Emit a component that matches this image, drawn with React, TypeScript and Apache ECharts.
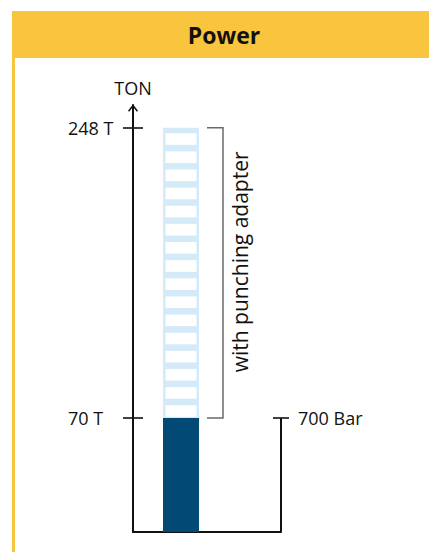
import React, { useEffect, useRef } from 'react';
import * as echarts from 'echarts';

// ---- data ----
const TITLE = 'Power';
const TON_AXIS_NAME = 'TON';
const TON_TICKS = [70, 248];
const TON_TICK_LABELS = ['70 T', '248 T'];
const BAR_TICKS = [700];
const BAR_TICK_LABELS = ['700 Bar'];
const BASE_TON = [70];            // standard force
const ADAPTER_TON = [70, 248];    // range added with punching adapter
const PRESSURE_BAR = [0, 700];
const ADAPTER_LABEL = 'with punching adapter';
const TON_AXIS_MAX = 262;
const BAR_PER_TON = 10;

// ---- layout / style constants ----
const FONT = '"Open Sans", sans-serif';
const YELLOW = '#F9C53E';
const DARK = '#024A75';
const LIGHT = '#D5EAF9';
const INK = '#111111';
const X_MAX = 148;
const BAR_X = 48;
const BAR_WIDTH = 36;
const BRACKET_X0 = 74;
const BRACKET_X1 = 90;
const STRIPES = 16;

export default function App() {
  const ref = useRef<HTMLDivElement>(null);

  useEffect(() => {
    if (!ref.current) return;
    const chart = echarts.init(ref.current, undefined, { renderer: 'svg' });

    const option: any = {
      animation: false,
      backgroundColor: '#ffffff',
      graphic: [
        { type: 'rect', shape: { x: 12, y: 11, width: 417, height: 47 }, style: { fill: YELLOW }, silent: true },
        { type: 'rect', shape: { x: 12, y: 58, width: 3, height: 494 }, style: { fill: YELLOW }, silent: true },
        {
          type: 'text',
          x: 224,
          y: 35,
          style: {
            text: TITLE,
            font: `bold 23px ${FONT}`,
            fill: INK,
            align: 'center',
            verticalAlign: 'middle',
            textAlign: 'center',
            textVerticalAlign: 'middle',
          },
          silent: true,
        },
      ],
      grid: { left: 133, right: 148, top: 105, bottom: 20, containLabel: false },
      xAxis: {
        type: 'value',
        min: 0,
        max: X_MAX,
        axisLine: { show: true, lineStyle: { color: INK, width: 2 } },
        axisTick: { show: false },
        axisLabel: { show: false },
        splitLine: { show: false },
      },
      yAxis: [
        {
          type: 'value',
          min: 0,
          max: TON_AXIS_MAX,
          position: 'left',
          axisLine: {
            show: true,
            onZero: false,
            symbol: ['none', 'path://M0,6.5 L5,0 L10,6.5 L8.8,7.4 L5,2.4 L1.2,7.4 Z'],
            symbolSize: [10, 7.4],
            symbolOffset: [0, -3],
            lineStyle: { color: INK, width: 2 },
          },
          axisTick: { show: false },
          axisLabel: { show: false },
          splitLine: { show: false },
          name: TON_AXIS_NAME,
          nameLocation: 'end',
          nameGap: 8,
          nameTextStyle: { fontFamily: FONT, fontSize: 18, color: INK },
        },
        {
          type: 'value',
          min: 0,
          max: TON_AXIS_MAX,
          position: 'left',
          offset: -10,
          axisLine: { show: false },
          axisTick: { show: true, length: 20, customValues: TON_TICKS, lineStyle: { color: INK, width: 1.6 } },
          axisLabel: {
            show: true,
            customValues: TON_TICKS,
            formatter: (v: number) => TON_TICK_LABELS[TON_TICKS.indexOf(v)] ?? '',
            align: 'left',
            margin: 75,
            fontFamily: FONT,
            fontSize: 18,
            color: INK,
          },
          splitLine: { show: false },
        },
        {
          type: 'value',
          min: 0,
          max: TON_AXIS_MAX * BAR_PER_TON,
          position: 'right',
          offset: -8,
          axisLine: { show: false },
          axisTick: { show: true, length: 16, customValues: BAR_TICKS, lineStyle: { color: INK, width: 1.6 } },
          axisLabel: {
            show: true,
            customValues: BAR_TICKS,
            formatter: (v: number) => BAR_TICK_LABELS[BAR_TICKS.indexOf(v)] ?? '',
            margin: 25,
            fontFamily: FONT,
            fontSize: 18,
            color: INK,
          },
          splitLine: { show: false },
        },
      ],
      series: [
        {
          type: 'bar',
          yAxisIndex: 0,
          barWidth: BAR_WIDTH,
          data: BASE_TON.map((v) => [BAR_X, v]),
          itemStyle: { color: DARK },
          silent: true,
        },
        {
          type: 'custom',
          yAxisIndex: 0,
          data: [[BAR_X, ADAPTER_TON[0], ADAPTER_TON[1]]],
          silent: true,
          clip: false,
          renderItem: (_p: any, api: any) => {
            const x = api.value(0);
            const top = api.coord([x, api.value(2)]);
            const bot = api.coord([x, api.value(1)]);
            const left = top[0] - BAR_WIDTH / 2;
            const span = bot[1] - top[1];
            const period = span / STRIPES;
            const whiteH = period * 0.64;
            const children: any[] = [
              { type: 'rect', shape: { x: left, y: top[1], width: BAR_WIDTH, height: span }, style: { fill: LIGHT } },
            ];
            for (let i = 0; i < STRIPES; i++) {
              children.push({
                type: 'rect',
                shape: { x: left + 2.5, y: top[1] + period * 0.3 + i * period, width: BAR_WIDTH - 5, height: whiteH },
                style: { fill: '#ffffff' },
              });
            }
            return { type: 'group', children };
          },
        },
        {
          type: 'custom',
          yAxisIndex: 0,
          data: [[ADAPTER_TON[0], ADAPTER_TON[1]]],
          silent: true,
          clip: false,
          renderItem: (_p: any, api: any) => {
            const yBot = api.coord([0, api.value(0)])[1];
            const yTop = api.coord([0, api.value(1)])[1];
            const x0 = api.coord([BRACKET_X0, 0])[0];
            const x1 = api.coord([BRACKET_X1, 0])[0];
            return {
              type: 'group',
              children: [
                {
                  type: 'polyline',
                  shape: { points: [[x0, yTop], [x1, yTop], [x1, yBot], [x0, yBot]] },
                  style: { stroke: '#6A6A6A', lineWidth: 1.5, fill: 'none' },
                },
                {
                  type: 'text',
                  x: x1 + 16.5,
                  y: (yTop + yBot) / 2 - 11,
                  rotation: Math.PI / 2,
                  style: {
                    text: ADAPTER_LABEL,
                    fontFamily: FONT,
                    fontSize: 21,
                    fill: INK,
                    align: 'center',
                    verticalAlign: 'middle',
                  },
                },
              ],
            };
          },
        },
        {
          type: 'line',
          yAxisIndex: 2,
          data: PRESSURE_BAR.map((v) => [X_MAX, v]),
          symbol: 'none',
          clip: false,
          silent: true,
          lineStyle: { color: INK, width: 2 },
        },
      ],
    };

    chart.setOption(option);
    return () => chart.dispose();
  }, []);

  return (
    <div
      ref={ref}
      style={{ position: 'absolute', left: 0, top: 0, width: 429, height: 552 }}
    />
  );
}
